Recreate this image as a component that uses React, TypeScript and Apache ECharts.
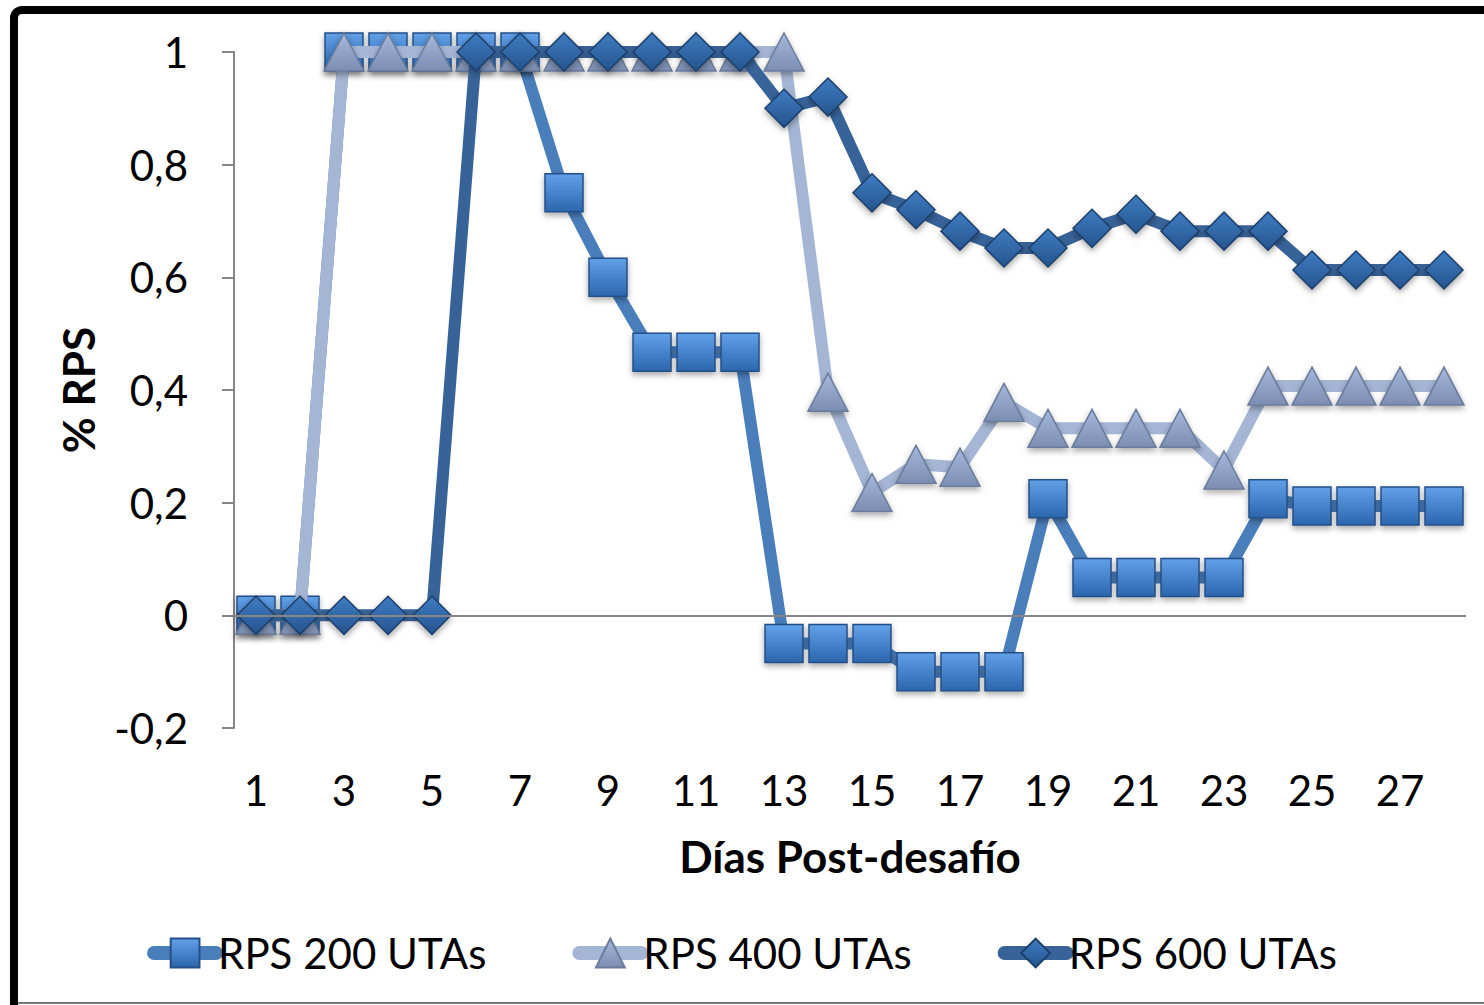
import React, { useEffect, useRef } from "react";
import * as echarts from "echarts";

const days = Array.from({ length: 28 }, (_, i) => String(i + 1));
const yTicks = { min: -0.2, max: 1, interval: 0.2 };

const rps200 = [0, 0, 1, 1, 1, 1, 1, 0.75, 0.6, 0.467, 0.467, 0.467, -0.05, -0.05, -0.05, -0.1, -0.1, -0.1, 0.207, 0.067, 0.067, 0.067, 0.067, 0.207, 0.194, 0.194, 0.194, 0.194];
const rps400 = [0, 0, 1, 1, 1, 1, 1, 1, 1, 1, 1, 1, 1, 0.396, 0.218, 0.268, 0.263, 0.378, 0.332, 0.332, 0.332, 0.332, 0.258, 0.407, 0.407, 0.407, 0.407, 0.407];
const rps600 = [0, 0, 0, 0, 0, 1, 1, 1, 1, 1, 1, 1, 0.9, 0.92, 0.75, 0.72, 0.682, 0.652, 0.652, 0.687, 0.712, 0.682, 0.682, 0.682, 0.613, 0.613, 0.613, 0.613];

const names = ["RPS 200 UTAs", "RPS 400 UTAs", "RPS 600 UTAs"];

const grad = (a: string, b: string) =>
  new echarts.graphic.LinearGradient(0, 0, 0, 1, [
    { offset: 0, color: a },
    { offset: 1, color: b },
  ]);

export default function App() {
  const ref = useRef<HTMLDivElement>(null);
  useEffect(() => {
    if (!ref.current) return;
    const chart = echarts.init(ref.current, undefined, { renderer: "svg" });
    const font = "Lato, 'Open Sans', sans-serif";
    const mk = (
      name: string,
      data: number[],
      symbol: string,
      size: number | number[],
      line: string,
      top: string,
      bottom: string,
      border: string,
      z: number
    ) => ({
      name,
      type: "line",
      data,
      z,
      symbol,
      symbolSize: size,
      showAllSymbol: true,
      lineStyle: { color: line, width: 12, cap: "round", join: "round" },
      itemStyle: {
        color: grad(top, bottom),
        borderColor: border,
        borderWidth: 1.5,
        shadowColor: "rgba(0,0,0,0.35)",
        shadowBlur: 6,
        shadowOffsetY: 3,
      },
      emphasis: { disabled: true },
    });
    chart.setOption({
      animation: false,
      backgroundColor: "#ffffff",
      textStyle: { fontFamily: font },
      grid: { left: 234, right: 18, top: 52, bottom: 277, containLabel: false },
      legend: {
        data: names,
        bottom: 26,
        left: "center",
        itemWidth: 62,
        itemHeight: 36,
        itemGap: 86,
        lineStyle: { width: 14, cap: "round" },
        textStyle: { fontSize: 42, color: "#000", fontFamily: font, padding: [0, 0, 0, -3] },
      },
      xAxis: {
        type: "category",
        data: days,
        boundaryGap: true,
        axisLine: { show: false, onZero: false },
        axisTick: { show: false },
        axisLabel: { interval: 1, fontSize: 42, color: "#000", margin: 41 },
        name: "Días Post-desafío",
        nameLocation: "middle",
        nameGap: 106,
        nameTextStyle: { fontSize: 44, fontWeight: "bold", color: "#000" },
        splitLine: { show: false },
      },
      yAxis: {
        type: "value",
        min: yTicks.min,
        max: yTicks.max,
        interval: yTicks.interval,
        axisLine: { show: true, lineStyle: { color: "#868686", width: 2 } },
        axisTick: { show: true, length: 12, lineStyle: { color: "#868686", width: 2 } },
        axisLabel: {
          fontSize: 42,
          color: "#000",
          margin: 46,
          formatter: (v: number) => String(Math.round(v * 10) / 10).replace(".", ","),
        },
        splitLine: { show: false },
        name: "% RPS",
        nameLocation: "middle",
        nameGap: 134,
        nameTextStyle: { fontSize: 44, fontWeight: "bold", color: "#000" },
      },
      series: [
        {
          name: "zero",
          type: "line",
          data: [],
          z: 1,
          markLine: {
            silent: true,
            symbol: "none",
            label: { show: false },
            lineStyle: { color: "#868686", width: 2, type: "solid" },
            data: [{ yAxis: 0 }],
          },
        },
        mk(names[0], rps200, "rect", 38, "#4a7ebb", "#62a0e8", "#2c66ad", "#24508a", 2),
        mk(names[1], rps400, "triangle", [40, 38], "#a5b6d5", "#a6b8dc", "#7b8db0", "#6a7b9c", 3),
        mk(names[2], rps600, "diamond", 38, "#386399", "#3f7cc2", "#25548e", "#1d3f69", 4),
      ],
      graphic: [
        {
          type: "rect",
          shape: { x: 14, y: 10, width: 1500, height: 1100, r: 8 },
          style: { stroke: "#000", lineWidth: 8, fill: "none" },
          silent: true,
          z: 100,
        },
        {
          type: "line",
          shape: { x1: 18, y1: 1003, x2: 1484, y2: 1003 },
          style: { stroke: "#777", lineWidth: 2 },
          silent: true,
          z: 100,
        },
      ],
    });
    return () => chart.dispose();
  }, []);
  return (
    <div
      ref={ref}
      style={{ position: "fixed", left: 0, top: 0, width: 1484, height: 1005 }}
    />
  );
}
